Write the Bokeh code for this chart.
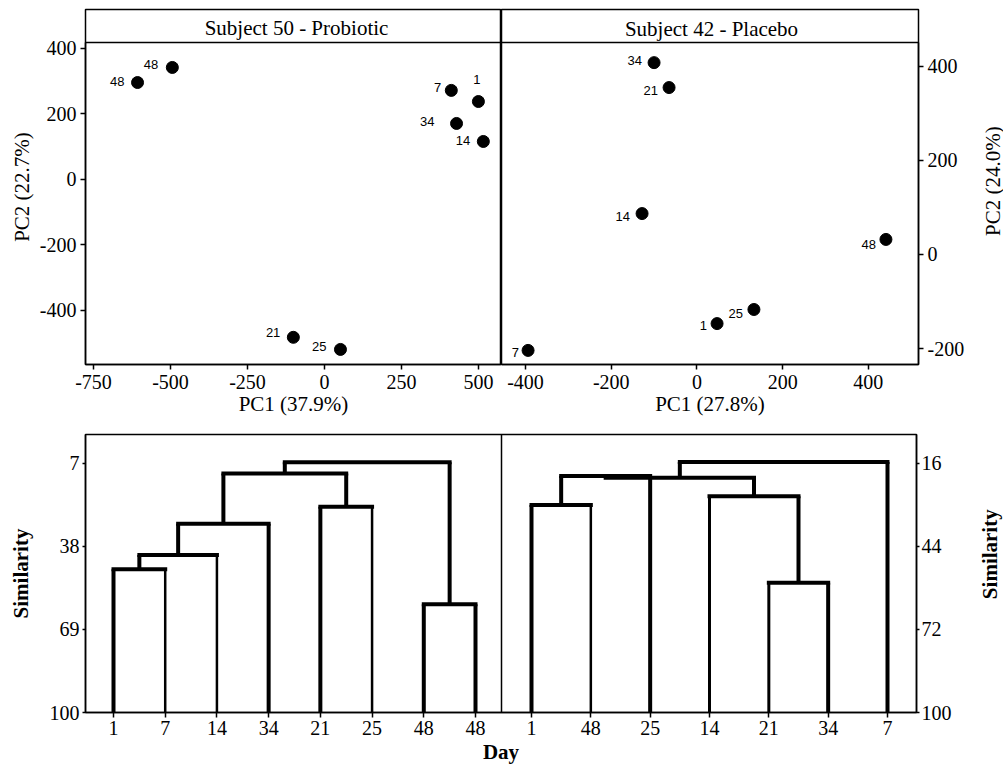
import math
from bokeh.plotting import figure
from bokeh.models import Range1d, FixedTicker, LinearAxis, Span, Label, ColumnDataSource
from bokeh.layouts import column, row
from bokeh.embed import file_html
from bokeh.resources import INLINE
from bokeh.core.properties import value

# ---------------- data ----------------
left_title = "Subject 50 - Probiotic"
right_title = "Subject 42 - Placebo"

pca_left_days = ["48", "48", "7", "1", "34", "14", "21", "25"]
pca_left_pc1 = [-607, -494, 412, 500, 429, 516, -101, 52]
pca_left_pc2 = [296, 342, 272, 238, 171, 116, -482, -519]

pca_right_days = ["34", "21", "14", "48", "25", "1", "7"]
pca_right_pc1 = [-100, -65, -128, 441, 133, 47, -394]
pca_right_pc2 = [408, 355, 87, 32, -117, -147, -204]

left_x_ticks = [-750, -500, -250, 0, 250, 500]
left_y_ticks = [-400, -200, 0, 200, 400]
right_x_ticks = [-400, -200, 0, 200, 400]
right_y_ticks = [-200, 0, 200, 400]

# dendrograms: leaf order + merges (child a, child b, similarity)
dend_left_leaves = ["1", "7", "14", "34", "21", "25", "48", "48"]
dend_left_merges = [(6, 7, 59.6), (0, 1, 46.5), (9, 2, 41.2), (10, 3, 29.5),
                    (4, 5, 23.2), (11, 12, 10.8), (13, 8, 6.6)]
dend_right_leaves = ["1", "48", "25", "14", "21", "34", "7"]
dend_right_merges = [(4, 5, 56.3), (0, 1, 30.1), (3, 7, 27.1), (8, 2, 20.3),
                     (10, 9, 20.9), (11, 6, 15.6)]
sim_left_ticks = [7, 38, 69, 100]
sim_right_ticks = [16, 44, 72, 100]

# ---------------- styling ----------------
SERIF = "Liberation Serif"
SANS = "Liberation Sans"
left_lbl_dx = [-13, -14, -10, 2, -22, -13, -13, -14]
left_lbl_dy = [-1, -3, -3, -22, -2, -1, -5, -3]
right_lbl_dx = [-12, -11, -12, -10, -11, -10, -9]
right_lbl_dy = [-2, 3, 3, 5, 4, 2, 2]
left_leaf_w = [4, 2.5, 2.5, 4, 4, 2.5, 4, 4]
right_leaf_w = [4, 2.5, 4, 3, 3, 4, 4]

LABEL_COL_W = 33       # narrow column holding right-hand rotated axis titles
RIGHT_EDGE = 970       # page x where that column starts


def style_axis(ax, tick_out=5, standoff=3):
    ax.major_label_text_font = SERIF
    ax.major_label_text_font_size = "20px"
    ax.major_label_text_color = "black"
    ax.axis_label_text_font = SERIF
    ax.axis_label_text_font_style = "normal"
    ax.axis_label_text_font_size = "21px"
    ax.axis_label_text_color = "black"
    ax.axis_line_color = "black"
    ax.axis_line_width = 1.5
    ax.major_tick_out = tick_out
    ax.major_tick_in = 0
    ax.major_tick_line_color = "black"
    ax.major_tick_line_width = 1.5
    ax.minor_tick_line_color = None
    ax.major_label_standoff = standoff


def set_ticks(ax, ticks):
    ax.ticker = FixedTicker(ticks=ticks)
    ax.major_label_overrides = {t: str(t) for t in ticks}


def px_to_x(px, fl, fr, rng):
    return rng.start + (px - fl) / (fr - fl) * (rng.end - rng.start)


def px_to_y(py, ft, fb, rng):
    return rng.start + (fb - py) / (fb - ft) * (rng.end - rng.start)


def label_column(height, text, cx, cy, bold=False):
    """A narrow, bare figure that carries a rotated (bottom-to-top) axis title."""
    q = figure(width=LABEL_COL_W, height=height, x_range=Range1d(0, LABEL_COL_W),
               y_range=Range1d(0, height), output_backend="svg", toolbar_location=None,
               min_border=0, min_border_left=0, min_border_right=0,
               min_border_top=0, min_border_bottom=0)
    q.axis.visible = False
    q.xgrid.visible = False
    q.ygrid.visible = False
    q.outline_line_color = None
    q.text(x=[cx], y=[height - cy], text=[text], angle=math.pi / 2,
           text_align="center", text_baseline="middle", text_font=value(SERIF),
           text_font_size="21px", text_font_style="bold" if bold else "normal",
           text_color="black")
    return q


def pca_panel(days, xs, ys, dx, dy, xr, yr, xticks, yticks, title, xlabel, ylabel,
              side, width, bl, br, fl, fr, title_px):
    p = figure(width=width, height=424, x_range=xr, y_range=yr,
               output_backend="svg", toolbar_location=None,
               min_border_left=bl, min_border_right=br, min_border_top=9,
               min_border_bottom=60, y_axis_location=side)
    p.xgrid.visible = False
    p.ygrid.visible = False
    p.outline_line_color = "black"
    p.outline_line_width = 1.5
    ft, fb = 9, 364
    strip_y = px_to_y(42, ft, fb, yr)
    xa = p.xaxis[0]
    ya = p.yaxis[0]
    style_axis(xa, 5, 5)
    style_axis(ya, 5, 4)
    set_ticks(xa, xticks)
    set_ticks(ya, yticks)
    xa.axis_label = xlabel
    xa.axis_label_standoff = 0
    ya.bounds = (yr.start, strip_y)
    if side == "left":
        ya.axis_label = ylabel
        ya.axis_label_standoff = 3
    # title strip
    p.add_layout(Span(location=strip_y, dimension="width",
                      line_color="black", line_width=1.5))
    p.add_layout(Label(x=px_to_x(title_px[0], fl, fr, xr), y=px_to_y(title_px[1], ft, fb, yr),
                       text=title, text_align="center", text_baseline="middle",
                       text_font=SERIF, text_font_size="21px", text_color="black"))
    src = ColumnDataSource(dict(x=xs, y=ys, day=days, dx=dx, dy=dy))
    p.scatter("x", "y", source=src, size=12, color="black")
    p.text("x", "y", text="day", x_offset="dx", y_offset="dy", source=src,
           text_align="right", text_baseline="middle", text_font=value(SANS),
           text_font_size="13px", text_color="black")
    return p


xr1 = Range1d(-776, 575)
yr1 = Range1d(-565, 519)
p1 = pca_panel(pca_left_days, pca_left_pc1, pca_left_pc2, left_lbl_dx, left_lbl_dy,
               xr1, yr1, left_x_ticks, left_y_ticks, left_title, "PC1 (37.9%)",
               "PC2 (22.7%)", "left", 501, 85, 0, 85, 501, (296, 27))

xr2 = Range1d(-456, 517)
yr2 = Range1d(-234, 521)
p2 = pca_panel(pca_right_days, pca_right_pc1, pca_right_pc2, right_lbl_dx, right_lbl_dy,
               xr2, yr2, right_x_ticks, right_y_ticks, right_title, "PC1 (27.8%)",
               "PC2 (24.0%)", "right", RIGHT_EDGE - 501, 0, RIGHT_EDGE - 918,
               501, 918, (711, 28))
p2_lab = label_column(424, "PC2 (24.0%)", 992 - RIGHT_EDGE, 205)

# ---------------- dendrograms (one figure, two panels) ----------------
FL, FR, FT, FB = 85, 916, 434, 712
uL = (475 - 113) / 7.0
uR = (887 - 531) / 6.0
xl_start = 1 - (113 - FL) / uL
xL = Range1d(xl_start, xl_start + (FR - FL) / uL)
xr_end = 7 + (FR - 887) / uR
xR = Range1d(xr_end - (FR - FL) / uR, xr_end)
yL = Range1d(100, -3.8)
yR = Range1d(100, 6.3)

p3 = figure(width=RIGHT_EDGE, height=346, x_range=xL, y_range=yL,
            output_backend="svg", toolbar_location=None,
            min_border_left=85, min_border_right=RIGHT_EDGE - FR, min_border_top=10,
            min_border_bottom=58)
p3.extra_x_ranges = {"rx": xR}
p3.extra_y_ranges = {"ry": yR}
p3.xgrid.visible = False
p3.ygrid.visible = False
p3.outline_line_color = "black"
p3.outline_line_width = 1.5


def dendro_segments(leaves, merges, leaf_w):
    n = len(leaves)
    pos = {i: float(i + 1) for i in range(n)}
    hgt = {i: 100.0 for i in range(n)}
    vx0, vy0, vx1, vy1, vw = [], [], [], [], []
    hx0, hx1, hy = [], [], []
    for k, (a, b, h) in enumerate(merges):
        for c in (a, b):
            vx0.append(pos[c]); vx1.append(pos[c])
            vy0.append(hgt[c]); vy1.append(h)
            vw.append(leaf_w[c] if c < n else 4)
        hx0.append(pos[a]); hx1.append(pos[b]); hy.append(h)
        pos[n + k] = (pos[a] + pos[b]) / 2
        hgt[n + k] = h
    return (dict(x0=vx0, y0=vy0, x1=vx1, y1=vy1, w=vw),
            dict(x0=hx0, x1=hx1, y=hy))


vL, hL = dendro_segments(dend_left_leaves, dend_left_merges, left_leaf_w)
vR, hR = dendro_segments(dend_right_leaves, dend_right_merges, right_leaf_w)

p3.segment("x0", "y0", "x1", "y1", source=ColumnDataSource(vL), line_width="w",
           line_color="black")
p3.segment("x0", "y", "x1", "y", source=ColumnDataSource(hL), line_width=4,
           line_color="black", line_cap="square")
p3.segment("x0", "y0", "x1", "y1", source=ColumnDataSource(vR), line_width="w",
           line_color="black", x_range_name="rx", y_range_name="ry")
p3.segment("x0", "y", "x1", "y", source=ColumnDataSource(hR), line_width=4,
           line_color="black", line_cap="square", x_range_name="rx", y_range_name="ry")

# divider between panels
p3.add_layout(Span(location=px_to_x(501, FL, FR, xL), dimension="height",
                   line_color="black", line_width=1.5))

# bottom axis: leaf labels of both panels
tick_pos, overrides = [], {}
for i, lab in enumerate(dend_left_leaves):
    t = float(i + 1)
    tick_pos.append(t)
    overrides[t] = lab
for i, lab in enumerate(dend_right_leaves):
    xr_val = float(i + 1)
    t = xL.start + (xr_val - xR.start) * uR / uL
    tick_pos.append(t)
    overrides[t] = lab
xa = p3.xaxis[0]
style_axis(xa, 5, 3)
xa.ticker = FixedTicker(ticks=tick_pos)
xa.major_label_overrides = overrides
xa.axis_label = "Day"
xa.axis_label_text_font_style = "bold"
xa.axis_label_standoff = 2

ya = p3.yaxis[0]
style_axis(ya, 3, 3)
set_ticks(ya, sim_left_ticks)
ya.axis_label = "Similarity"
ya.axis_label_text_font_style = "bold"
ya.axis_label_standoff = 14

yra = LinearAxis(y_range_name="ry")
style_axis(yra, 3, 2)
set_ticks(yra, sim_right_ticks)
p3.add_layout(yra, "right")
p3_lab = label_column(346, "Similarity", 989 - RIGHT_EDGE, 573 - 424, bold=True)

layout = column(row(p1, p2, p2_lab), row(p3, p3_lab))
open("out.html", "w").write(file_html(layout, INLINE))
